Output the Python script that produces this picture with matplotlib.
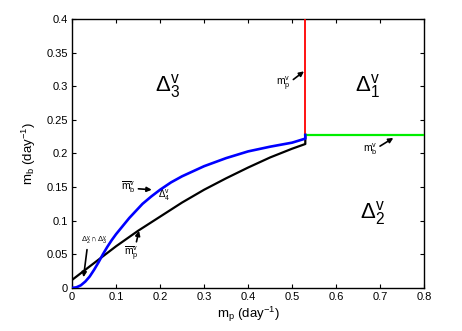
import numpy as np
import matplotlib
matplotlib.use("Agg")
import matplotlib.pyplot as plt

plt.rcParams["font.family"] = ["Liberation Sans", "DejaVu Sans"]
plt.rcParams["mathtext.fontset"] = "custom"
plt.rcParams["mathtext.rm"] = "Liberation Sans"
plt.rcParams["mathtext.it"] = "Liberation Sans"
plt.rcParams["mathtext.bf"] = "Liberation Sans:bold"

# blue curve (upper boundary of Delta_4)
blue_x = [0, 0.01, 0.02, 0.03, 0.04, 0.05, 0.06, 0.07, 0.08, 0.09, 0.1, 0.11,
          0.12, 0.13, 0.14, 0.15, 0.16, 0.18, 0.2, 0.225, 0.25, 0.3, 0.35,
          0.4, 0.45, 0.5, 0.53, 0.53]
blue_y = [0, 0.001, 0.004, 0.0095, 0.017, 0.027, 0.038, 0.050, 0.061, 0.071,
          0.080, 0.088, 0.096, 0.104, 0.111, 0.118, 0.125, 0.136, 0.146,
          0.157, 0.166, 0.181, 0.193, 0.203, 0.210, 0.216, 0.222, 0.2275]

# black curve (lower boundary)
black_x = [0, 0.05, 0.1, 0.15, 0.2, 0.25, 0.3, 0.35, 0.4, 0.45, 0.5, 0.53, 0.53]
black_y = [0.012, 0.037, 0.062, 0.085, 0.106, 0.127, 0.146, 0.163, 0.179,
           0.194, 0.207, 0.214, 0.2275]

# thresholds
mp_v = 0.53
mb_v = 0.2275
y_top = 0.4
x_right = 0.8

x_ticks = [0, 0.1, 0.2, 0.3, 0.4, 0.5, 0.6, 0.7, 0.8]
y_ticks = [0, 0.05, 0.1, 0.15, 0.2, 0.25, 0.3, 0.35, 0.4]

fig = plt.figure(figsize=(4.62, 3.31), dpi=100)
ax = fig.add_axes([0.156, 0.130, 0.762, 0.813])

ax.plot(black_x, black_y, color="black", lw=1.6, zorder=3,
        solid_joinstyle="round")
ax.plot(blue_x, blue_y, color="blue", lw=1.9, zorder=4,
        solid_joinstyle="round")
ax.plot([mp_v, mp_v], [mb_v, y_top], color="red", lw=1.3, zorder=3)
ax.plot([mp_v, x_right], [mb_v, mb_v], color="#00ee00", lw=1.6, zorder=3)

ax.set_xlim(0, x_right)
ax.set_ylim(0, y_top)
ax.set_xticks(x_ticks)
ax.set_yticks(y_ticks)
ax.set_xticklabels([f"{t:g}" for t in x_ticks])
ax.set_yticklabels([f"{t:g}" for t in y_ticks])
ax.tick_params(direction="in", top=True, right=True, length=3, width=0.8,
               labelsize=8, pad=3)
for s in ax.spines.values():
    s.set_linewidth(1.0)

ax.set_xlabel(r"m$_\mathrm{p}$ (day$^{-1}$)", fontsize=9.5, labelpad=2)
ax.set_ylabel(r"m$_\mathrm{b}$ (day$^{-1}$)", fontsize=9.5, labelpad=6)

# region labels
big = dict(fontsize=16, ha="center", va="center")
ax.text(0.218, 0.300, r"$\Delta_3^v$", **big)
ax.text(0.672, 0.300, r"$\Delta_1^v$", **big)
ax.text(0.683, 0.112, r"$\Delta_2^v$", **big)
ax.text(0.21, 0.138, r"$\Delta_4^v$", fontsize=7, ha="center", va="center")

arrow = dict(arrowstyle="-|>", color="black", lw=1.2, mutation_scale=7,
             shrinkA=0, shrinkB=0)
small = dict(fontsize=7.5, ha="center", va="center")

ax.annotate(r"$\overline{\mathrm{m}}_\mathrm{b}^\mathrm{v}$", xy=(0.181, 0.146),
            xytext=(0.128, 0.150), arrowprops=dict(arrow, relpos=(1, 0.4)), **small)
ax.annotate(r"$\overline{\mathrm{m}}_\mathrm{p}^\mathrm{v}$", xy=(0.152, 0.085),
            xytext=(0.135, 0.051), arrowprops=dict(arrow, relpos=(0.8, 1)), **small)
ax.annotate(r"$\Delta_2^v\cap\Delta_3^v$", xy=(0.026, 0.016),
            xytext=(0.05, 0.070), arrowprops=dict(arrow, relpos=(0.25, 0.1)),
            fontsize=5.5, ha="center", va="center")
ax.annotate(r"$\mathrm{m}_\mathrm{p}^\mathrm{v}$", xy=(0.527, 0.322),
            xytext=(0.48, 0.304), arrowprops=dict(arrow, relpos=(1, 0.6)), **small)
ax.annotate(r"$\mathrm{m}_\mathrm{b}^\mathrm{v}$", xy=(0.73, 0.223),
            xytext=(0.677, 0.206), arrowprops=dict(arrow, relpos=(1, 0.6)), **small)

fig.savefig("out.png", dpi=100)
